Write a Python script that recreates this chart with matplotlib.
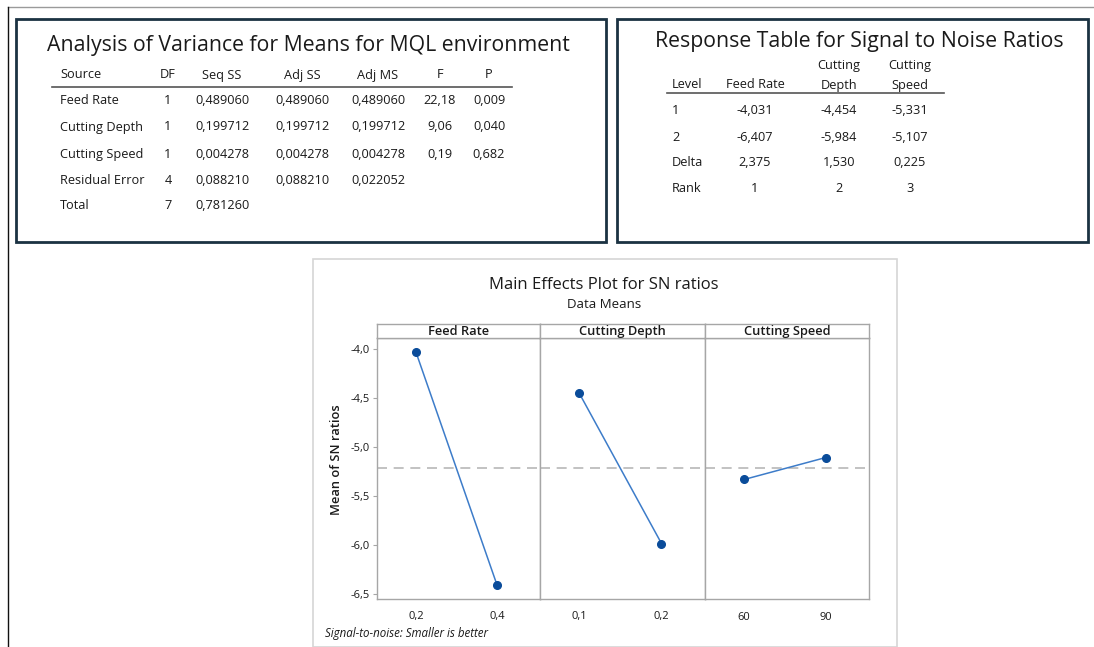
import numpy as np
import matplotlib
matplotlib.use("Agg")
import matplotlib.pyplot as plt
from matplotlib.patches import Rectangle
from matplotlib.lines import Line2D

plt.rcParams['font.family'] = ['Open Sans', 'DejaVu Sans']

# ANOVA table
anova_sources = ["Feed Rate", "Cutting Depth", "Cutting Speed", "Residual Error", "Total"]
anova_df = [1, 1, 1, 4, 7]
seq_ss = [0.489060, 0.199712, 0.004278, 0.088210, 0.781260]
adj_ss = [0.489060, 0.199712, 0.004278, 0.088210, None]
adj_ms = [0.489060, 0.199712, 0.004278, 0.022052, None]
f_values = [22.18, 9.06, 0.19, None, None]
p_values = [0.009, 0.040, 0.682, None, None]

# response table for S/N ratios
factors = ["Feed Rate", "Cutting Depth", "Cutting Speed"]
sn_level1 = [-4.031, -4.454, -5.331]
sn_level2 = [-6.407, -5.984, -5.107]
sn_delta = [2.375, 1.530, 0.225]
sn_rank = [1, 2, 3]
level_labels = [["0,2", "0,4"], ["0,1", "0,2"], ["60", "90"]]
y_ticks = [-4.0, -4.5, -5.0, -5.5, -6.0, -6.5]

W, H = 1094, 647
BOX = "#1b3242"
BLUE_LINE = "#3d7cc9"
BLUE_DOT = "#0a4c9a"
GRID_GRAY = "#a6a6a6"
TXT = 9.2


def fx(x):
    return x / W


def fy(y):
    return 1 - y / H


def comma(v, nd):
    if v is None:
        return ""
    return f"{v:.{nd}f}".replace(".", ",")


fig = plt.figure(figsize=(W / 100, H / 100), dpi=100)


def put(x, y, s, size=TXT, ha="center", **kw):
    fig.text(fx(x), fy(y), s, ha=ha, va="center", fontsize=size, color="#1a1a1a", **kw)


def box(x0, y0, x1, y1, color, lw):
    fig.add_artist(Rectangle((fx(x0), fy(y1)), fx(x1) - fx(x0), fy(y0) - fy(y1),
                             transform=fig.transFigure, fill=False,
                             edgecolor=color, linewidth=lw))


def hline(x0, x1, y, color, lw):
    fig.add_artist(Line2D([fx(x0), fx(x1)], [fy(y), fy(y)], transform=fig.transFigure,
                          color=color, linewidth=lw))


# page edges
hline(8, W, 7, "#9a9a9a", 1.0)
fig.add_artist(Line2D([fx(8), fx(8)], [fy(7), 0], transform=fig.transFigure,
                      color="#111111", linewidth=1.0))

# ---- ANOVA box ----
box(16, 19, 606, 242, BOX, 2.0)
put(308, 45, "Analysis of Variance for Means for MQL environment", size=15.3)
anova_cols = [60, 168, 222, 302, 378, 440, 489]
anova_heads = ["Source", "DF", "Seq SS", "Adj SS", "Adj MS", "F", "P"]
for i, h in enumerate(anova_heads):
    put(anova_cols[i], 75, h, ha="left" if i == 0 else "center")
hline(52, 512, 87, "#555555", 1.2)
row_y = [101, 127, 154, 180, 205]
for r, y in enumerate(row_y):
    put(anova_cols[0], y, anova_sources[r], ha="left")
    put(anova_cols[1], y, str(anova_df[r]))
    put(anova_cols[2], y, comma(seq_ss[r], 6))
    put(anova_cols[3], y, comma(adj_ss[r], 6))
    put(anova_cols[4], y, comma(adj_ms[r], 6))
    put(anova_cols[5], y, comma(f_values[r], 2))
    put(anova_cols[6], y, comma(p_values[r], 3))

# ---- response table box ----
box(617, 19, 1088, 242, BOX, 2.0)
put(859, 42, "Response Table for Signal to Noise Ratios", size=15.3)
resp_cols = [672, 755, 839, 910]
put(resp_cols[0], 85, "Level", ha="left")
for i, name in enumerate(factors):
    parts = name.split(" ")
    if i == 0:
        put(resp_cols[1], 85, name)
    else:
        put(resp_cols[i + 1], 66, parts[0])
        put(resp_cols[i + 1], 85, parts[1])
hline(667, 944, 93, "#555555", 1.2)
resp_rows = [("1", [comma(v, 3) for v in sn_level1]),
             ("2", [comma(v, 3) for v in sn_level2]),
             ("Delta", [comma(v, 3) for v in sn_delta]),
             ("Rank", [str(v) for v in sn_rank])]
for (label, vals), y in zip(resp_rows, [111, 137, 162, 189]):
    put(resp_cols[0], y, label, ha="left")
    for j, v in enumerate(vals):
        put(resp_cols[j + 1], y, v)

# ---- main effects plot ----
fig.add_artist(Rectangle((fx(313), 0), fx(897) - fx(313), fy(259),
                         transform=fig.transFigure, fill=False,
                         edgecolor="#d6d6d6", linewidth=1.2))
put(604, 285, "Main Effects Plot for SN ratios", size=12)
put(604, 305, "Data Means", size=9.5)

grand_mean = np.mean([sn_level1[0], sn_level2[0]])
panel_x = [377, 540, 705, 869]
ax_top, ax_bot, strip_top = 338, 599, 324
axes = []
for i, name in enumerate(factors):
    x0, x1 = panel_x[i], panel_x[i + 1]
    ax = fig.add_axes([fx(x0), fy(ax_bot), fx(x1) - fx(x0), fy(ax_top) - fy(ax_bot)])
    ax.plot([0, 1], [sn_level1[i], sn_level2[i]], color=BLUE_LINE, linewidth=1.1, zorder=3)
    ax.plot([0, 1], [sn_level1[i], sn_level2[i]], linestyle="none", marker="o",
            markersize=5.5, color=BLUE_DOT, zorder=4)
    ax.axhline(grand_mean, color="#b8b8b8", linestyle=(0, (6, 4)), linewidth=1.2, zorder=2)
    ax.set_xlim(-0.48, 1.53)
    ax.set_ylim(-6.55, -3.888)
    ax.set_xticks([0, 1])
    ax.set_xticklabels(level_labels[i], fontsize=8)
    ax.set_yticks(y_ticks)
    for s in ax.spines.values():
        s.set_color(GRID_GRAY)
        s.set_linewidth(1.0)
    ax.tick_params(axis="x", length=0, pad=9, colors="#1a1a1a")
    ax.tick_params(axis="y", length=3, color=GRID_GRAY, pad=2, labelsize=8, labelcolor="#1a1a1a")
    if i == 0:
        ax.set_yticklabels([comma(v, 1) for v in y_ticks])
    else:
        ax.tick_params(axis="y", left=False, labelleft=False)
    axes.append(ax)

    # strip header
    sx = fig.add_axes([fx(x0), fy(ax_top), fx(x1) - fx(x0), fy(strip_top) - fy(ax_top)])
    sx.set_xticks([])
    sx.set_yticks([])
    for s in sx.spines.values():
        s.set_color(GRID_GRAY)
        s.set_linewidth(1.0)
    sx.text(0.5, 0.45, name, ha="center", va="center", fontsize=9.3, color="#1a1a1a",
            fontweight="semibold", transform=sx.transAxes)

fig.text(fx(337), fy(460), "Mean of SN ratios", rotation=90, ha="center", va="center",
         fontsize=9.3, fontweight="semibold", color="#1a1a1a")
put(325, 633, "Signal-to-noise: Smaller is better", size=8.3, ha="left", style="italic")

fig.savefig("out.png", dpi=100, facecolor="white")
